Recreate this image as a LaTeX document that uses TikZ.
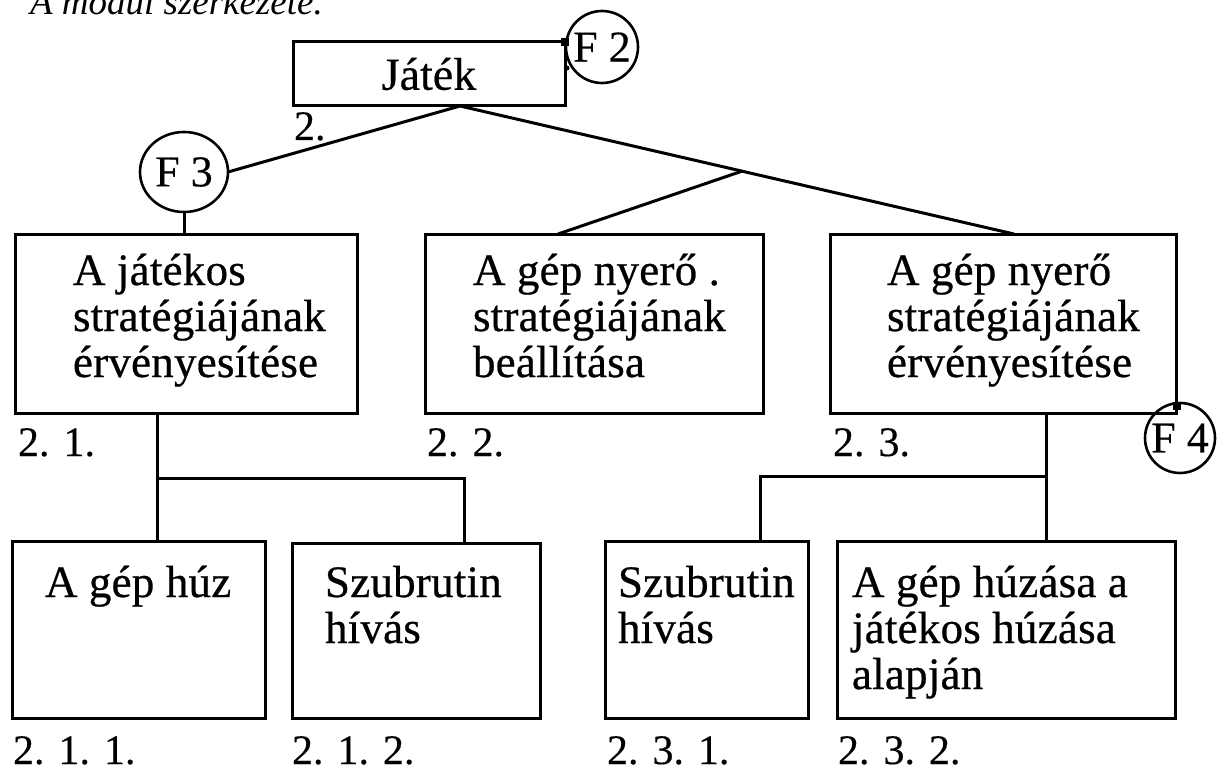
\documentclass[tikz,border=0pt]{standalone}
\usepackage{fontspec}
\setmainfont{Liberation Serif}
\newfontfamily\boxfont[LetterSpace=0.5,FakeBold=0.6]{Liberation Serif}
\newfontfamily\numfont[FakeBold=0.4]{Liberation Serif}
\usetikzlibrary{shapes.geometric,calc}

\begin{document}
\begin{tikzpicture}[x=1pt,y=-1pt,
  every node/.style={inner sep=0pt, outer sep=0pt},
  wire/.style={line width=3pt},
  modbox/.style={draw, line width=3pt, rectangle, anchor=north west},
  boxtext/.style={font=\boxfont\fontsize{45}{46}\selectfont, align=left, anchor=north west},
  numlabel/.style={font=\numfont\fontsize{42}{46}\selectfont, anchor=base west},
  fcirc/.style={draw, circle, line width=2.6pt, minimum size=72pt, font=\numfont\fontsize{44}{50}\selectfont},
  joint/.style={fill, rectangle, minimum size=8pt}
]
\useasboundingbox (0,0) rectangle (1218,773);

% heading (upper part lies outside the page)
\node[font=\itshape\fontsize{37}{42}\selectfont, anchor=base west] (title) at (30,15) {A modul szerkezete.};

% top module
\node[modbox, minimum width=272pt, minimum height=64pt, font=\numfont\fontsize{46}{50}\selectfont] (jatek) at (293,42) {Játék};
\node[fcirc] (f2) at (602,47) {F 2};
\node[joint] (f2dot) at (565,42) {};
\node[fill, circle, minimum size=5pt] (f2tick) at (567,68) {};
\node[numlabel] (n2) at (294,140) {2.};

% second level
\node[modbox, minimum width=342pt, minimum height=179pt] (b21) at (15,234) {};
\node[modbox, minimum width=338pt, minimum height=179pt] (b22) at (425,234) {};
\node[modbox, minimum width=346pt, minimum height=179pt] (b23) at (830,234) {};

\node[boxtext] (t21) at (73,252) {\rule{0pt}{33pt}A játékos\\stratégiájának\\érvényesítése};
\node[boxtext] (t22) at (473,252) {\rule{0pt}{33pt}A gép nyerő .\\stratégiájának\\beállítása};
\node[boxtext] (t23) at (887,252) {\rule{0pt}{33pt}A gép nyerő\\stratégiájának\\érvényesítése};

\node[numlabel] (n21) at (18,456) {2. 1.};
\node[numlabel] (n22) at (427,456) {2. 2.};
\node[numlabel] (n23) at (833,456) {2. 3.};

\node[draw, ellipse, line width=2.6pt, minimum width=88pt, minimum height=80pt,
      font=\numfont\fontsize{44}{50}\selectfont] (f3) at (184,172) {F 3};
\node[fcirc, minimum size=70pt] (f4) at (1180,438) {F 4};
\node[joint] (f4dot) at (1177,406) {};

% third level
\node[modbox, minimum width=253pt, minimum height=177pt] (b211) at (12,541) {};
\node[modbox, minimum width=248pt, minimum height=175pt] (b212) at (292,543) {};
\node[modbox, minimum width=203pt, minimum height=177pt] (b231) at (605,541) {};
\node[modbox, minimum width=338pt, minimum height=177pt] (b232) at (837,541) {};

\node[boxtext] (t211) at (45,564) {\rule{0pt}{33pt}A gép húz};
\node[boxtext] (t212) at (325,564) {\rule{0pt}{33pt}Szubrutin\\hívás};
\node[boxtext] (t231) at (618,564) {\rule{0pt}{33pt}Szubrutin\\hívás};
\node[boxtext] (t232) at (852,564) {\rule{0pt}{33pt}A gép húzása a\\játékos húzása\\alapján};

\node[numlabel] (n211) at (13,764) {2. 1. 1.};
\node[numlabel] (n212) at (292,764) {2. 1. 2.};
\node[numlabel] (n231) at (607,764) {2. 3. 1.};
\node[numlabel] (n232) at (838,764) {2. 3. 2.};

% connectors from the top module
\coordinate (apex) at (460,106);
\coordinate (hit23) at (1014,234);
\coordinate (hit22) at (558,234);
\coordinate (fork) at ($(apex)!0.509!(hit23)$);
\draw[wire] (apex) -- (f3.east);
\draw[wire] (apex) -- (hit23);
\draw[wire] (fork) -- (hit22);
\draw[wire] (f3.south) -- (f3.south |- b21.north);

% connectors to the third level
\coordinate (s1) at (157,478);
\coordinate (s1r) at (464,478);
\draw[wire] (s1 |- b21.south) -- (s1 |- b211.north);
\draw[wire] (s1) -- (s1r) -- (s1r |- b212.north);

\coordinate (s3) at (1046,476);
\coordinate (s3l) at (760,476);
\draw[wire] (s3 |- b23.south) -- (s3 |- b232.north);
\draw[wire] (s3) -- (s3l) -- (s3l |- b231.north);
\end{tikzpicture}
\end{document}
